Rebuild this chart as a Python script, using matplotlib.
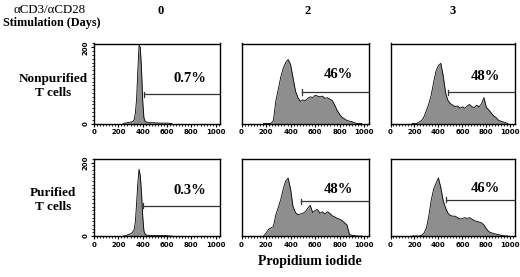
import matplotlib
matplotlib.use("Agg")
import matplotlib.pyplot as plt
from matplotlib.ticker import MultipleLocator, FixedLocator

# PI channel grids
channels_fine = [240, 250, 260, 270, 280, 290, 300, 310, 320, 330,
                 340, 350, 360, 370, 380, 390, 400, 410, 420, 430,
                 440, 450, 460, 470, 480, 490, 500, 510, 520, 530,
                 540, 550, 560, 570, 580, 590, 600, 610, 620, 630, 640]
channels = [180, 200, 220, 240, 260, 280, 300, 320, 340, 360,
            380, 400, 420, 440, 460, 480, 500, 520, 540, 560,
            580, 600, 620, 640, 660, 680, 700, 720, 740, 760,
            780, 800, 820, 840, 860, 880, 900, 920, 940, 960, 980]

# event counts
nonpur_d0 = [0, 1, 1, 2, 3, 3, 4, 4, 6, 10,
             28, 65, 140, 205, 200, 145, 60, 15, 6, 4,
             3, 3, 2, 2, 2, 2, 2, 1, 2, 1,
             1, 1, 1, 1, 1, 1, 1, 1, 0, 0, 0]
nonpur_d2 = [0, 0, 0, 0, 8, 60, 90, 122, 145, 160,
             168, 155, 120, 85, 68, 58, 62, 60, 66, 70,
             68, 74, 72, 70, 72, 66, 68, 64, 60, 48,
             34, 24, 16, 12, 8, 6, 5, 2, 0, 0, 0]
nonpur_d3 = [0, 0, 0, 4, 8, 18, 34, 52, 75, 108,
             138, 152, 158, 125, 80, 60, 52, 48, 44, 46,
             40, 44, 40, 46, 50, 44, 42, 48, 44, 52,
             68, 42, 36, 28, 20, 16, 9, 6, 4, 2, 0]
pur_d0 = [0, 0, 1, 2, 4, 5, 6, 8, 12, 18,
          40, 90, 145, 182, 165, 120, 55, 14, 5, 3,
          2, 2, 1, 1, 1, 1, 1, 1, 1, 1,
          1, 1, 1, 1, 1, 1, 1, 0, 0, 0, 0]
pur_d2 = [0, 8, 18, 22, 26, 58, 78, 100, 128, 150,
          158, 128, 80, 64, 58, 60, 62, 66, 76, 84,
          64, 70, 72, 62, 66, 60, 66, 62, 55, 52,
          48, 46, 42, 36, 30, 4, 2, 1, 0, 0, 0]
pur_d3 = [0, 0, 0, 0, 2, 8, 22, 55, 98, 128,
          144, 158, 132, 96, 76, 62, 56, 54, 54, 50,
          46, 48, 50, 48, 50, 46, 42, 40, 38, 36,
          30, 20, 12, 9, 7, 5, 4, 2, 1, 0, 0]

days = ["0", "2", "3"]
row_names = ["Nonpurified\nT cells", "Purified\nT cells"]
percents = [["0.7%", "46%", "48%"], ["0.3%", "48%", "46%"]]
gate_start = [[412, 491, 478], [399, 485, 465]]
gate_level = [[77, 83, 82], [83, 95, 99]]

hists = [[(channels_fine, nonpur_d0), (channels, nonpur_d2), (channels, nonpur_d3)],
         [(channels_fine, pur_d0), (channels, pur_d2), (channels, pur_d3)]]

W, H = 520, 277
fig = plt.figure(figsize=(W / 100, H / 100), dpi=100)
serif = "Liberation Serif"
tickfont = ["Liberation Sans Narrow", "DejaVu Sans"]

rows_px = [(43.5, 123.5), (159, 236)]
cols_px = [(94, 220), (241.5, 368.5), (390.5, 514.5)]
text_y = [[117, 128, 123], [124, 126, 130]]

for r in range(2):
    top, bot = rows_px[r]
    for c in range(3):
        left, right = cols_px[c]
        ax = fig.add_axes([left / W, 1 - bot / H, (right - left) / W, (bot - top) / H])
        x, y = hists[r][c]
        ax.fill_between(x, y, 0, color="#8e8e8e", lw=0)
        ax.plot(x, y, color="black", lw=0.6)
        # gate marker
        gx, gy = gate_start[r][c], gate_level[r][c]
        ax.plot([gx, 1040], [gy, gy], color="#333333", lw=0.9)
        ax.plot([gx, gx], [gy - 7, gy + 7], color="#333333", lw=0.9)
        ax.text(790, text_y[r][c], percents[r][c], ha="center", va="center",
                family=serif, weight="bold", fontsize=10.5)
        ax.set_xlim(0, 1035)
        ax.set_ylim(0, 210)
        ax.xaxis.set_major_locator(FixedLocator([0, 200, 400, 600, 800, 1000]))
        ax.xaxis.set_minor_locator(MultipleLocator(25))
        ax.yaxis.set_major_locator(FixedLocator([0, 200]))
        ax.yaxis.set_minor_locator(MultipleLocator(10))
        ax.tick_params(which="major", direction="out", length=2.5, width=0.8, pad=1.5)
        ax.tick_params(which="minor", direction="out", length=1.3, width=0.6)
        ax.tick_params(axis="y", which="both", left=(c == 0), labelleft=(c == 0))
        for lab in ax.get_xticklabels():
            lab.set_fontfamily(tickfont)
            lab.set_fontsize(5)
            lab.set_fontweight("bold")
        for lab in ax.get_yticklabels():
            lab.set_fontfamily(tickfont)
            lab.set_fontsize(5)
            lab.set_fontweight("bold")
            lab.set_rotation(90)
            lab.set_va("center")
        for sp in ax.spines.values():
            sp.set_linewidth(1.0)

# headers and labels
fig.text(50 / W, 1 - 10 / H, "\u03b1CD3/\u03b1CD28", ha="center", va="center",
         family=serif, fontsize=9.3)
fig.text(52 / W, 1 - 23 / H, "Stimulation (Days)", ha="center", va="center",
         family=serif, weight="bold", fontsize=8.7)
for c, d in enumerate(days):
    cx = [161, 308, 453][c]
    fig.text(cx / W, 1 - 11 / H, d, ha="center", va="center",
             family=serif, weight="bold", fontsize=9)
for r, name in enumerate(row_names):
    cy = [86, 200][r]
    fig.text(53 / W, 1 - cy / H, name, ha="center", va="center",
             family=serif, weight="bold", fontsize=9.5, linespacing=1.15)
fig.text(310 / W, 1 - 262 / H, "Propidium iodide", ha="center", va="center",
         family=serif, weight="bold", fontsize=10)

fig.savefig("out.png", dpi=100)
